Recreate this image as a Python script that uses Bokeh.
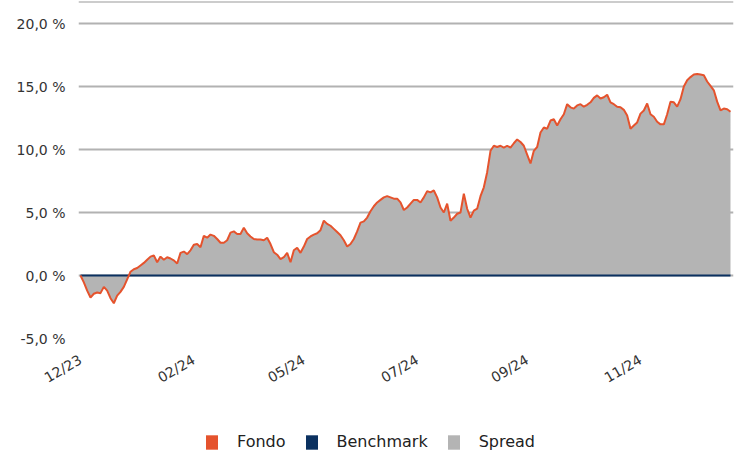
from bokeh.plotting import figure
from bokeh.layouts import column
from bokeh.models import (FixedTicker, Legend, LegendItem, ColumnDataSource, Span, Range1d)
from bokeh.embed import file_html
from bokeh.resources import INLINE
import math

# ---- data (percent), one value per observation ----
fondo = [
    0.0, -0.55, -1.2, -1.75, -1.45, -1.35, -1.4, -0.9, -1.2, -1.8,
    -2.2, -1.6, -1.3, -0.9, -0.3, 0.3, 0.5, 0.6, 0.8, 1.0,
    1.25, 1.5, 1.6, 1.05, 1.5, 1.25, 1.45, 1.35, 1.2, 0.95,
    1.8, 1.9, 1.7, 2.0, 2.45, 2.5, 2.25, 3.15, 3.0, 3.25,
    3.15, 2.9, 2.6, 2.6, 2.8, 3.4, 3.5, 3.3, 3.3, 3.8,
    3.35, 3.1, 2.9, 2.85, 2.85, 2.8, 3.0, 2.5, 1.85, 1.65,
    1.3, 1.45, 1.8, 1.05, 2.0, 2.2, 1.8, 2.3, 2.9, 3.1,
    3.25, 3.35, 3.6, 4.35, 4.1, 3.95, 3.7, 3.45, 3.2, 2.8,
    2.3, 2.5, 2.9, 3.5, 4.2, 4.3, 4.6, 5.1, 5.5, 5.8,
    6.0, 6.2, 6.3, 6.2, 6.1, 6.1, 5.8, 5.2, 5.4, 5.7,
    6.0, 6.0, 5.8, 6.2, 6.7, 6.6, 6.75, 6.2, 5.4, 5.0,
    5.7, 4.35, 4.6, 4.9, 5.0, 6.5, 5.3, 4.6, 5.15, 5.3,
    6.3, 7.0, 8.2, 9.9, 10.3, 10.2, 10.3, 10.15, 10.3, 10.15,
    10.5, 10.8, 10.6, 10.3, 9.6, 8.9, 9.9, 10.2, 11.35, 11.75,
    11.65, 12.3, 12.4, 11.9, 12.4, 12.8, 13.6, 13.35, 13.25, 13.5,
    13.6, 13.4, 13.55, 13.75, 14.1, 14.3, 14.05, 14.15, 14.35, 13.75,
    13.6, 13.4, 13.35, 13.15, 12.7, 11.65, 11.9, 12.15, 12.85, 13.1,
    13.65, 12.8, 12.6, 12.2, 12.0, 12.0, 12.8, 13.8, 13.75, 13.4,
    14.0, 15.0, 15.5, 15.75, 15.95, 16.0, 15.95, 15.9, 15.4, 15.05,
    14.7, 13.8, 13.1, 13.25, 13.2, 13.0,
]
benchmark = [0.0] * len(fondo)          # benchmark return: flat at 0 %
spread = [f - b for f, b in zip(fondo, benchmark)]
obs = list(range(len(fondo)))

x_tick_pos = [0, 34, 67, 101, 134, 168]
x_tick_labels = ["12/23", "02/24", "05/24", "07/24", "09/24", "11/24"]
y_ticks = [-5, 0, 5, 10, 15, 20]
y_tick_labels = ["-5,0 %", "0,0 %", "5,0 %", "10,0 %", "15,0 %", "20,0 %"]
series_names = ["Fondo", "Benchmark", "Spread"]
series_colors = ["#E5532D", "#0B3160", "#B4B4B4"]

FONT = "DejaVu Sans"
src = ColumnDataSource(dict(x=obs, fondo=fondo, bench=benchmark, spread=spread))

Y_TOP = 21.75
p = figure(width=734, height=400, output_backend="svg", toolbar_location=None,
           x_range=Range1d(-0.6, len(fondo) - 1 + 0.9),
           y_range=Range1d(-5, Y_TOP),
           min_border_left=78, min_border_right=1, min_border_top=1,
           min_border_bottom=62)
p.outline_line_color = None
p.background_fill_color = "white"

# spread area (between benchmark and fund)
area = p.varea(x="x", y1="bench", y2="fondo", source=src, fill_color=series_colors[2])
# benchmark line
bl = p.line(x="x", y="bench", source=src, line_color=series_colors[1], line_width=2)
# fund line
fl = p.line(x="x", y="fondo", source=src, line_color=series_colors[0], line_width=2)

top_line = Span(location=Y_TOP, dimension="width", line_color="#9A9A9A", line_width=2)
p.add_layout(top_line)

# axes
p.xgrid.grid_line_color = None
p.ygrid.grid_line_color = "#B2B2B2"
p.ygrid.grid_line_width = 2
p.ygrid.ticker = FixedTicker(ticks=y_ticks)

p.yaxis.ticker = FixedTicker(ticks=y_ticks)
p.yaxis.major_label_overrides = {t: l for t, l in zip(y_ticks, y_tick_labels)}
p.yaxis.axis_line_color = None
p.yaxis.major_tick_line_color = None
p.yaxis.minor_tick_line_color = None
p.yaxis.major_label_text_font = FONT
p.yaxis.major_label_text_font_size = "14px"
p.yaxis.major_label_text_color = "#333333"
p.yaxis.major_label_standoff = 7

p.xaxis.ticker = FixedTicker(ticks=x_tick_pos)
p.xaxis.major_label_overrides = {t: l for t, l in zip(x_tick_pos, x_tick_labels)}
p.xaxis.axis_line_color = None
p.xaxis.major_tick_line_color = None
p.xaxis.minor_tick_line_color = None
p.xaxis.major_label_orientation = math.pi / 6
p.xaxis.major_label_text_font = FONT
p.xaxis.major_label_text_font_size = "14px"
p.xaxis.major_label_text_color = "#333333"
p.xaxis.major_label_standoff = 14

# ---- legend strip below the chart ----
lg = figure(width=734, height=51, output_backend="svg", toolbar_location=None,
            x_axis_location=None, y_axis_location=None,
            x_range=Range1d(0, 1), y_range=Range1d(0, 1),
            min_border_left=0, min_border_right=0, min_border_top=0, min_border_bottom=0)
lg.grid.visible = False
lg.outline_line_color = None
# proxy swatches: one off-range square each, only so the legend can draw the swatch
proxies = [lg.quad(left=[-3], right=[-2], bottom=[-3], top=[-2], fill_color=c, line_color=None)
           for c in series_colors]
legend = Legend(items=[LegendItem(label=n, renderers=[r]) for n, r in zip(series_names, proxies)],
                orientation="horizontal", location=(126, 0))
legend.border_line_color = None
legend.background_fill_alpha = 0
legend.label_text_font = FONT
legend.label_text_font_size = "16px"
legend.label_text_color = "#222222"
legend.glyph_width = 15
legend.glyph_height = 18
legend.label_standoff = 18
legend.spacing = 18
legend.padding = 2
legend.margin = 0
lg.add_layout(legend, "center")

layout = column(p, lg, spacing=0)
open("out.html", "w").write(file_html(layout, INLINE))
